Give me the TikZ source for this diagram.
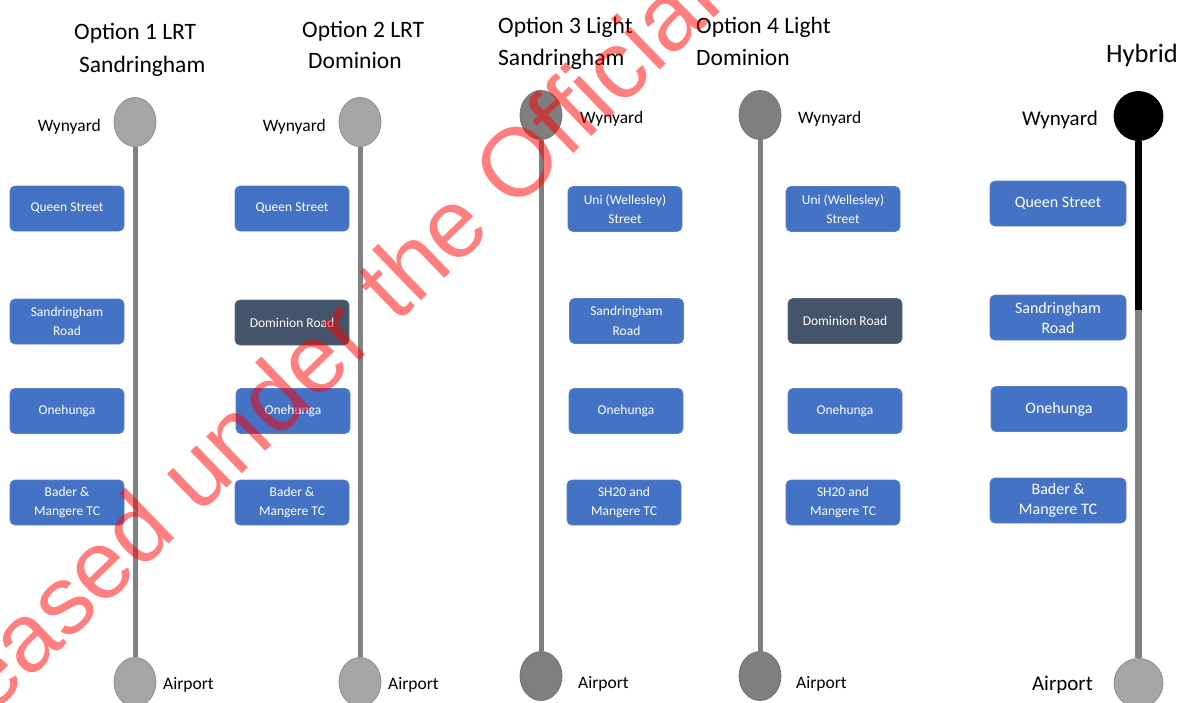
\documentclass[tikz,border=0pt]{standalone}
\usepackage{fontspec}
\setmainfont{Carlito}
\newfontfamily\wmfont{Liberation Sans}
\usetikzlibrary{shapes.geometric}
\definecolor{stopblue}{HTML}{4472C4}
\definecolor{stopedge}{HTML}{5B80C9}
\definecolor{stopdark}{HTML}{44546A}
\definecolor{darkedge}{HTML}{5E6C80}
\definecolor{lightstop}{HTML}{A5A5A5}
\definecolor{lightrim}{HTML}{8E8E8E}
\definecolor{midstop}{HTML}{7F7F7F}
\definecolor{trackgray}{HTML}{828282}
\begin{document}
\begin{tikzpicture}[x=1pt,y=-1pt,
  stopbox/.style={draw=stopedge, line width=0.8pt, fill=stopblue, rounded corners=5pt,
    minimum width=114pt, minimum height=45pt, inner sep=0pt, text=white, align=center,
    font=\fontsize{13.5}{19.5}\selectfont},
  darkbox/.style={stopbox, fill=stopdark, draw=darkedge},
  hybbox/.style={stopbox, minimum width=136pt, font=\fontsize{16}{20}\selectfont},
  terminus/.style={ellipse, minimum width=42pt, minimum height=49pt, inner sep=0pt,
    fill=lightstop, draw=lightrim, line width=0.8pt},
  darkterminus/.style={terminus, fill=midstop, draw=midstop!90!black},
  hybend/.style={circle, minimum size=49pt, inner sep=0pt, fill=lightstop, draw=lightrim, line width=0.8pt},
  hybstart/.style={hybend, fill=black, draw=black},
  track/.style={draw=trackgray, line width=5pt},
  hybtrack/.style={line width=6.5pt},
  title/.style={anchor=base west, inner sep=0pt, font=\fontsize{23.5}{28}\selectfont},
  place/.style={inner sep=0pt, font=\fontsize{17.5}{20}\selectfont},
  bigplace/.style={inner sep=0pt, font=\fontsize{21}{24}\selectfont},
  watermark/.style={rotate=44, anchor=base, inner sep=0pt, text=red, text opacity=0.5,
    font=\wmfont\fontsize{97}{97}\selectfont}
]
\useasboundingbox (0,0) rectangle (1182,702);
\fill[white] (0,0) rectangle (1182,702);

% ---------- Option 1 ----------
\node[title] (t1a) at (74,39) {Option 1 LRT};
\node[title] (t1b) at (79,72) {Sandringham};
\node[terminus] (w1) at (135,122) {};
\node[terminus] (a1) at (135,682) {};
\draw[track] (w1.south) -- (a1.north);
\node[place, anchor=base east] (lw1) at (101,131) {Wynyard};
\node[place, anchor=base west] (la1) at (163,689) {Airport};
\node[stopbox] (o1s1) at (67,208.5) {Queen Street};
\node[stopbox] (o1s2) at (67,321.5) {Sandringham\\Road};
\node[stopbox] (o1s3) at (67,411) {Onehunga};
\node[stopbox] (o1s4) at (67,502.5) {Bader \&\\Mangere TC};

% ---------- Option 2 ----------
\node[title] (t2a) at (302,37) {Option 2 LRT};
\node[title] (t2b) at (308,68) {Dominion};
\node[terminus] (w2) at (360,122) {};
\node[terminus] (a2) at (360,682) {};
\draw[track] (w2.south) -- (a2.north);
\node[place, anchor=base east] (lw2) at (326,131) {Wynyard};
\node[place, anchor=base west] (la2) at (388,689) {Airport};
\node[stopbox] (o2s1) at (292,208.5) {Queen Street};
\node[darkbox] (o2s2) at (292,322.5) {Dominion Road};
\node[stopbox] (o2s3) at (293,411) {Onehunga};
\node[stopbox] (o2s4) at (292,502.5) {Bader \&\\Mangere TC};

% ---------- Option 3 ----------
\node[title] (t3a) at (498,33) {Option 3 Light};
\node[title] (t3b) at (498,65) {Sandringham};
\node[darkterminus] (w3) at (541,115) {};
\node[darkterminus] (a3) at (541,676) {};
\draw[track, draw=midstop] (w3.south) -- (a3.north);
\node[place, anchor=base west] (lw3) at (580,123) {Wynyard};
\node[place, anchor=base west] (la3) at (578,688) {Airport};
\node[stopbox] (o3s1) at (625,209) {Uni (Wellesley)\\Street};
\node[stopbox] (o3s2) at (626.5,321) {Sandringham\\Road};
\node[stopbox] (o3s3) at (626,411) {Onehunga};
\node[stopbox] (o3s4) at (624,502.5) {SH20 and\\Mangere TC};

% ---------- Option 4 ----------
\node[title] (t4a) at (696,33) {Option 4 Light};
\node[title] (t4b) at (696,65) {Dominion};
\node[darkterminus] (w4) at (760,115) {};
\node[darkterminus] (a4) at (760,676) {};
\draw[track, draw=midstop] (w4.south) -- (a4.north);
\node[place, anchor=base west] (lw4) at (798,123) {Wynyard};
\node[place, anchor=base west] (la4) at (796,688) {Airport};
\node[stopbox] (o4s1) at (843,209) {Uni (Wellesley)\\Street};
\node[darkbox] (o4s2) at (845,321) {Dominion Road};
\node[stopbox] (o4s3) at (845,411) {Onehunga};
\node[stopbox] (o4s4) at (843,502.5) {SH20 and\\Mangere TC};

% ---------- Hybrid ----------
\node[title, font=\fontsize{26.5}{30}\selectfont] (t5) at (1106,62) {Hybrid};
\node[hybstart] (w5) at (1138.5,116) {};
\node[hybend] (a5) at (1138.5,683) {};
\coordinate (split5) at (1138.5,310);
\draw[hybtrack, draw=black] (w5.south) -- (split5);
\draw[hybtrack, draw=trackgray] (split5) -- (a5.north);
\node[bigplace, anchor=base east] (lw5) at (1098,125) {Wynyard};
\node[bigplace, anchor=base east] (la5) at (1093,690) {Airport};
\node[hybbox] (h5s1) at (1058,203.5) {Queen Street};
\node[hybbox] (h5s2) at (1058,317.5) {Sandringham\\Road};
\node[hybbox] (h5s3) at (1059,409) {Onehunga};
\node[hybbox] (h5s4) at (1058,500.5) {Bader \&\\Mangere TC};

% ---------- release stamp ----------
\begin{scope}
  \clip (0,0) rectangle (1182,702);
  \node[watermark] (stamp) at (305,413) {Released under the Official};
\end{scope}
\end{tikzpicture}
\end{document}
